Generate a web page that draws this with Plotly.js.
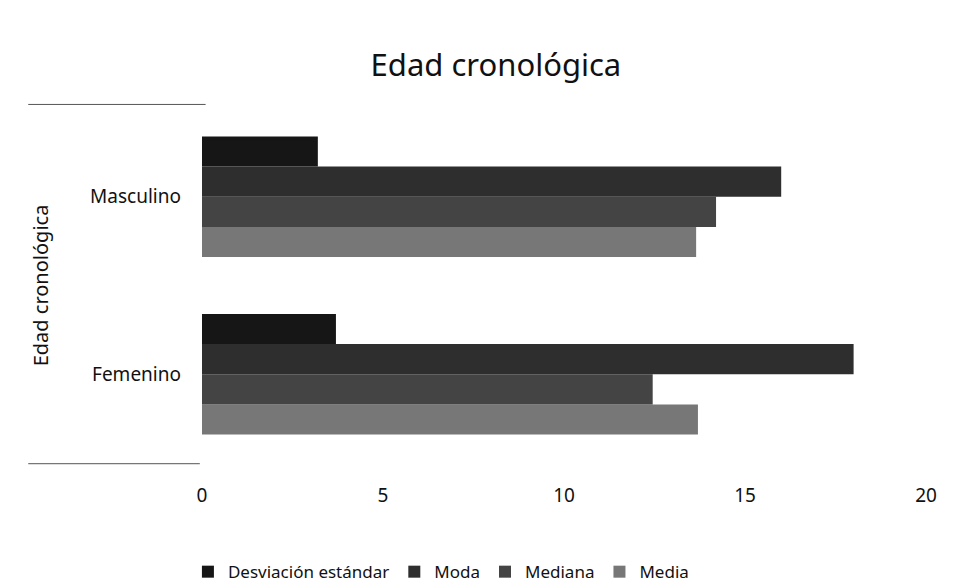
<!DOCTYPE html>
<html>
<head>
<meta charset="utf-8">
<script src="https://cdn.plot.ly/plotly-3.0.1.min.js"></script>
<style>html,body{margin:0;padding:0;background:#fff;}#chart{width:963px;height:588px;}</style>
</head>
<body>
<div id="chart"></div>
<script>
const categories = ["Femenino", "Masculino"];
const seriesNames = ["Desviación estándar", "Moda", "Mediana", "Media"];
const desviacion = [3.7, 3.2];
const moda = [18.0, 16.0];
const mediana = [12.45, 14.2];
const media = [13.7, 13.65];
const xTicks = [0, 5, 10, 15, 20];

const colors = {"Desviación estándar": "#161616", "Moda": "#2e2e2e", "Mediana": "#444444", "Media": "#777777"};
const valuesByName = {"Desviación estándar": desviacion, "Moda": moda, "Mediana": mediana, "Media": media};

// Plotly stacks grouped horizontal bars bottom-up, so add in reverse
const traces = seriesNames.slice().reverse().map(name => ({
  type: "bar",
  orientation: "h",
  name: name,
  y: categories,
  x: valuesByName[name],
  marker: {color: colors[name], line: {width: 0}},
  hoverinfo: "x+name"
}));

const font = "Noto Sans, Open Sans, sans-serif";
const layout = {
  width: 963, height: 588,
  margin: {l: 202, r: 37, t: 108, b: 125, pad: 0, autoexpand: false},
  paper_bgcolor: "#ffffff", plot_bgcolor: "#ffffff",
  font: {family: font, color: "#111", size: 17},
  title: {text: "Edad cronológica", font: {family: font, size: 31, color: "#111"}, x: 0.515, xanchor: "center", y: 0.89, yanchor: "middle"},
  barmode: "group",
  bargap: 0.32,
  bargroupgap: 0,
  xaxis: {
    range: [0, 20], tickvals: xTicks, ticktext: xTicks.map(String),
    showgrid: false, zeroline: false, showline: false, ticks: "",
    ticklabelstandoff: 19, tickfont: {family: font, size: 19, color: "#111"}
  },
  yaxis: {
    title: {text: "Edad cronológica", font: {family: font, size: 20, color: "#111"}, standoff: 36},
    showgrid: false, zeroline: false, showline: false, ticks: "",
    ticklabelstandoff: 20, tickfont: {family: font, size: 19, color: "#111"},
    automargin: false
  },
  legend: {
    orientation: "h", traceorder: "reversed",
    xref: "paper", yref: "container",
    x: 0.33, xanchor: "center", y: 0.027, yanchor: "middle",
    font: {family: font, size: 17, color: "#111"},
    itemwidth: 30
  },
  showlegend: true,
  shapes: [
    {type: "line", xref: "paper", yref: "paper", x0: -0.24, x1: 0.005, y0: 1.01, y1: 1.01, line: {color: "#555", width: 1}},
    {type: "line", xref: "paper", yref: "paper", x0: -0.24, x1: -0.003, y0: -0.002, y1: -0.002, line: {color: "#555", width: 1}}
  ]
};

Plotly.newPlot("chart", traces, layout, {displayModeBar: false, staticPlot: true});
</script>
</body>
</html>
